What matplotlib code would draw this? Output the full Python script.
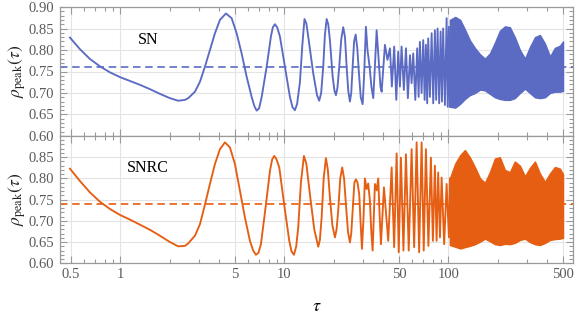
import matplotlib
matplotlib.use("Agg")
import matplotlib.pyplot as plt
from matplotlib.ticker import FixedLocator, NullFormatter, FixedFormatter

plt.rcParams['font.family'] = ['Liberation Serif', 'DejaVu Serif']
plt.rcParams['mathtext.fontset'] = 'stix'

BLUE = '#5b6bc3'
ORANGE = '#e65e12'

# ---- SN (top panel) : resolved part of the curve
sn_tau = [0.492, 0.566, 0.652, 0.750, 0.863, 0.993, 1.143, 1.315, 1.513, 1.741,
          2.004, 2.251, 2.474, 2.591, 2.847, 3.053, 3.275, 3.513, 3.770, 4.044,
          4.398, 4.765, 5.111, 5.483, 5.882, 6.31, 6.55, 6.77, 7.0, 7.26,
          7.79, 8.27, 8.5, 8.75, 9.05, 9.39, 10.07, 10.80, 11.2, 11.59,
          11.95, 12.43, 12.85, 13.25, 13.6, 13.97, 14.98, 15.8, 16.30, 16.75,
          17.24, 17.65, 18.09, 18.5, 18.94, 19.68, 20.2, 20.61, 21.05, 21.59,
          22.2, 22.83, 23.4, 23.95, 24.5, 25.08, 25.55, 26.06, 26.6, 27.18,
          27.8, 28.47, 29.2, 29.99, 30.6, 31.4, 32.1, 33.07, 33.9, 34.8,
          35.6, 36.5, 37.2, 37.8, 38.5, 39.15,
          41.0, 42.5, 44.0, 45.2, 46.7, 48.1, 49.4, 50.6, 51.8, 53.5,
          55.1, 56.6, 58.3, 59.6, 61.0, 62.8, 64.5, 65.8, 67.0, 68.6,
          70.2, 71.6, 72.9, 74.2, 75.3, 77.1, 79.0, 80.8, 82.7, 84.2,
          85.9, 87.8, 89.6, 91.3, 92.9, 95.2, 97.5, 99.0, 100.7, 102.1]
sn_rho = [0.829, 0.802, 0.779, 0.762, 0.748, 0.737, 0.728, 0.719, 0.709, 0.698,
          0.688, 0.682, 0.684, 0.688, 0.703, 0.726, 0.761, 0.800, 0.839, 0.870,
          0.885, 0.874, 0.839, 0.792, 0.738, 0.691, 0.670, 0.659, 0.664, 0.690,
          0.761, 0.831, 0.853, 0.860, 0.852, 0.831, 0.761, 0.691, 0.667, 0.660,
          0.675, 0.725, 0.810, 0.872, 0.862, 0.831, 0.746, 0.695, 0.682, 0.700,
          0.761, 0.835, 0.872, 0.860, 0.823, 0.738, 0.705, 0.695, 0.712, 0.761,
          0.825, 0.853, 0.830, 0.761, 0.705, 0.680, 0.700, 0.761, 0.820, 0.836,
          0.805, 0.746, 0.690, 0.674, 0.740, 0.854, 0.800, 0.761, 0.715, 0.688,
          0.760, 0.846, 0.800, 0.761, 0.715, 0.703,
          0.812, 0.777, 0.804, 0.715, 0.808, 0.684, 0.796, 0.715, 0.808, 0.707,
          0.804, 0.688, 0.788, 0.723, 0.792, 0.684, 0.804, 0.691, 0.819, 0.700,
          0.823, 0.684, 0.812, 0.676, 0.827, 0.691, 0.839, 0.676, 0.846, 0.684,
          0.850, 0.676, 0.843, 0.680, 0.850, 0.672, 0.874, 0.668, 0.854, 0.668]

# ---- dense part: upper / lower envelope
env_tau = [102, 110, 118, 126, 135, 145, 156, 167, 179, 192, 206, 221,
           237, 254, 273, 293, 314, 337, 361, 388, 416, 446, 479, 500]
sn_hi = [0.870, 0.877, 0.870, 0.848, 0.823, 0.805, 0.790, 0.780, 0.792, 0.817, 0.845, 0.855,
         0.853, 0.830, 0.800, 0.780, 0.807, 0.830, 0.835, 0.815, 0.785, 0.805, 0.810, 0.820]
sn_lo = [0.668, 0.666, 0.675, 0.686, 0.695, 0.700, 0.708, 0.706, 0.698, 0.690, 0.686, 0.684,
         0.684, 0.688, 0.700, 0.710, 0.700, 0.690, 0.688, 0.690, 0.700, 0.703, 0.703, 0.705]

# ---- SNRC (bottom panel)
snrc_tau = [0.492, 0.566, 0.652, 0.750, 0.863, 0.993, 1.143, 1.315, 1.513, 1.741,
            2.004, 2.251, 2.474, 2.591, 2.847, 3.053, 3.275, 3.513, 3.770, 4.044,
            4.337, 4.653, 4.991, 5.354, 5.742, 6.16, 6.45, 6.70, 6.95, 7.19,
            7.71, 8.16, 8.42, 8.67, 8.95, 9.30, 9.97, 10.70, 11.05, 11.43,
            11.8, 12.14, 12.6, 13.15, 13.6, 14.30, 15.2, 16.08, 16.45, 16.86,
            17.35, 17.91, 18.4, 18.94, 19.6, 20.32, 20.8, 21.28, 21.9, 22.51,
            23.1, 23.71, 24.4, 25.08, 25.55, 26.06, 26.7, 27.29, 27.9, 28.58,
            29.1, 29.69, 30.3, 30.97, 31.71, 32.43, 33.21, 33.8, 34.50, 35.0,
            35.63, 36.50, 37.33, 38.0, 38.77,
            40.45, 42.95, 45.06, 46.66, 48.33, 49.77, 51.34, 53.17, 55.07, 57.28,
            59.65, 61.79, 64.0, 66.28, 68.64, 70.69, 72.9, 75.5, 78.2, 80.4,
            82.7, 84.7, 86.6, 88.8, 90.9, 94.2, 97.5, 100.7, 102.1]
snrc_rho = [0.823, 0.794, 0.767, 0.745, 0.728, 0.714, 0.703, 0.691, 0.679, 0.665,
            0.650, 0.640, 0.641, 0.647, 0.665, 0.692, 0.738, 0.787, 0.834, 0.869,
            0.885, 0.873, 0.834, 0.771, 0.708, 0.653, 0.630, 0.620, 0.625, 0.645,
            0.738, 0.818, 0.845, 0.853, 0.845, 0.826, 0.738, 0.653, 0.628, 0.620,
            0.640, 0.685, 0.790, 0.853, 0.835, 0.763, 0.680, 0.639, 0.655, 0.708,
            0.800, 0.848, 0.820, 0.755, 0.690, 0.661, 0.680, 0.724, 0.800, 0.826,
            0.800, 0.739, 0.675, 0.649, 0.670, 0.724, 0.790, 0.798, 0.790, 0.763,
            0.700, 0.634, 0.700, 0.800, 0.775, 0.788, 0.747, 0.680, 0.630, 0.700,
            0.787, 0.772, 0.800, 0.720, 0.645,
            0.779, 0.653, 0.826, 0.638, 0.859, 0.626, 0.849, 0.630, 0.857, 0.630,
            0.869, 0.638, 0.885, 0.626, 0.885, 0.630, 0.869, 0.641, 0.849, 0.653,
            0.830, 0.653, 0.814, 0.661, 0.802, 0.645, 0.787, 0.661, 0.800]
snrc_hi = [0.800, 0.835, 0.855, 0.867, 0.850, 0.827, 0.800, 0.790, 0.815, 0.847, 0.850, 0.820,
           0.815, 0.840, 0.830, 0.805, 0.825, 0.840, 0.812, 0.792, 0.812, 0.827, 0.823, 0.810]
snrc_lo = [0.643, 0.639, 0.635, 0.638, 0.641, 0.645, 0.651, 0.658, 0.652, 0.645, 0.643, 0.646,
           0.645, 0.648, 0.655, 0.658, 0.650, 0.645, 0.643, 0.648, 0.655, 0.657, 0.658, 0.660]

sn_mean = 0.7605
snrc_mean = 0.739

major_x = [0.5, 1, 5, 10, 50, 100, 500]
major_x_labels = ['0.5', '1', '5', '10', '50', '100', '500']
minor_x = [0.6, 0.7, 0.8, 0.9, 2, 3, 4, 6, 7, 8, 9, 20, 30, 40, 60, 70, 80, 90,
           200, 300, 400]
y_major = [0.60, 0.65, 0.70, 0.75, 0.80, 0.85, 0.90]
y_minor = [round(0.60 + 0.01 * i, 2) for i in range(31)]

W, H = 581, 315
fig = plt.figure(figsize=(W / 100, H / 100), dpi=100)
ax1 = fig.add_axes([60 / W, 1 - 136 / H, 513 / W, 129 / H])
ax2 = fig.add_axes([60 / W, 1 - 263.3 / H, 513 / W, 127.3 / H])

panels = [
    (ax1, sn_tau, sn_rho, sn_hi, sn_lo, sn_mean, BLUE, 'SN', y_major),
    (ax2, snrc_tau, snrc_rho, snrc_hi, snrc_lo, snrc_mean, ORANGE, 'SNRC', y_major[:-1]),
]
for ax, t, r, hi, lo, mean, col, name, ylab in panels:
    ax.set_xscale('log')
    ax.set_xlim(0.428, 575)
    ax.set_ylim(0.60, 0.90)
    ax.plot(t, r, color=col, lw=1.35, solid_joinstyle='round')
    ax.fill_between(env_tau, lo, hi, color=col, lw=1.0, edgecolor=col)
    ax.axhline(mean, color=col, lw=1.2, dashes=(4.5, 2.8))
    ax.text(0.172, 0.745, name, transform=ax.transAxes, fontsize=11.5,
            ha='center', va='center')

    ax.xaxis.set_major_locator(FixedLocator(major_x))
    ax.xaxis.set_minor_locator(FixedLocator(minor_x))
    ax.xaxis.set_minor_formatter(NullFormatter())
    ax.yaxis.set_major_locator(FixedLocator(ylab))
    ax.yaxis.set_major_formatter(FixedFormatter(['%.2f' % v for v in ylab]))
    ax.yaxis.set_minor_locator(FixedLocator(y_minor))
    ax.grid(True, which='major', color='#e4e4e4', lw=0.8)
    ax.set_axisbelow(True)
    ax.tick_params(which='both', direction='in', top=True, right=True,
                   color='#9a9a9a', labelcolor='#5a5a5a', labelsize=10.5, width=0.8)
    ax.tick_params(which='major', length=5)
    ax.tick_params(which='minor', length=2.8)
    ax.tick_params(axis='y', pad=4)
    for s in ax.spines.values():
        s.set_color('#9a9a9a')
        s.set_linewidth(0.9)
    ax.set_ylabel(r'$\rho_{\mathrm{peak}}(\tau)$', fontsize=12.5, color='#222222')
    ax.yaxis.set_label_coords(-32 / 513, 0.5)

ax1.tick_params(axis='x', labelbottom=False)
ax2.xaxis.set_major_formatter(FixedFormatter(major_x_labels))
ax2.set_xlabel(r'$\tau$', fontsize=13, labelpad=12)

fig.savefig('out.png', dpi=100)
